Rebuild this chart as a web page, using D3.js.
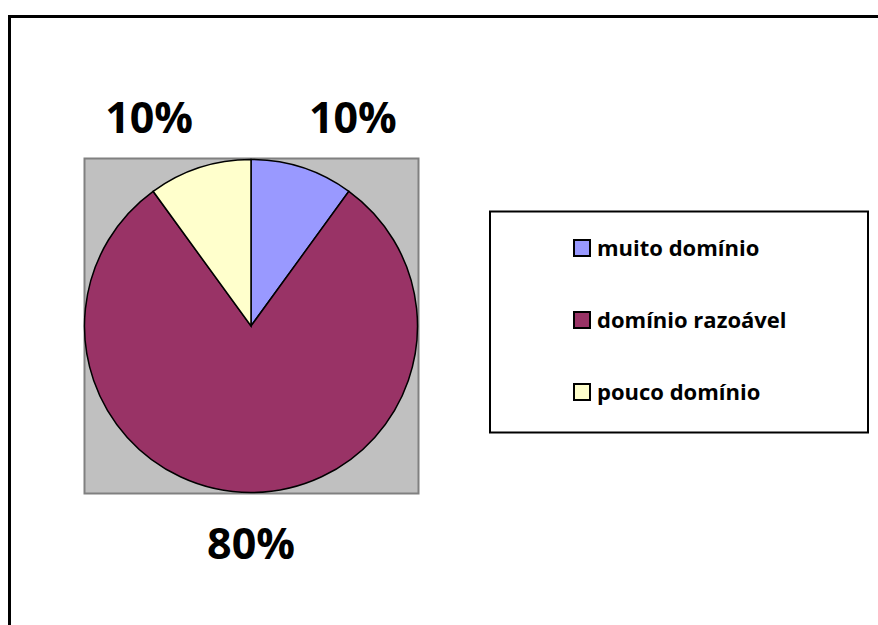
<!DOCTYPE html>
<html>
<head>
<meta charset="utf-8">
<script src="https://cdn.jsdelivr.net/npm/d3@7"></script>
<style>
  body { margin: 0; background: #fff; }
  svg { display: block; font-family: "Open Sans", sans-serif; }
</style>
</head>
<body>
<div id="chart"></div>
<script>
  // data
  const categories = ["muito domínio", "domínio razoável", "pouco domínio"];
  const values = [10, 80, 10];
  const colors = ["#9999FF", "#993366", "#FFFFCC"];

  const width = 878, height = 625;

  const svg = d3.select("#chart")
    .append("svg")
    .attr("width", width)
    .attr("height", height);

  // chart frame (runs past right/bottom edge)
  svg.append("rect")
    .attr("x", 9.5).attr("y", 16.5)
    .attr("width", 900).attr("height", 700)
    .attr("fill", "none")
    .attr("stroke", "#000")
    .attr("stroke-width", 3);

  // plot area
  const plot = { x: 84, y: 158, w: 334, h: 335 };
  svg.append("rect")
    .attr("x", plot.x + 0.5).attr("y", plot.y + 0.5)
    .attr("width", plot.w).attr("height", plot.h)
    .attr("fill", "#C0C0C0")
    .attr("stroke", "#808080")
    .attr("stroke-width", 2);

  const cx = 251, cy = 326, r = 166.5;

  const pie = d3.pie().sort(null).value(d => d.value);
  const arcs = pie(categories.map((c, i) => ({ name: c, value: values[i], color: colors[i] })));
  const arc = d3.arc().innerRadius(0).outerRadius(r);

  const g = svg.append("g").attr("transform", "translate(" + cx + "," + cy + ")");
  g.selectAll("path")
    .data(arcs)
    .enter()
    .append("path")
    .attr("d", arc)
    .attr("fill", d => d.data.color)
    .attr("stroke", "#000")
    .attr("stroke-width", 1.5);

  // percent labels outside
  const total = d3.sum(values);
  g.selectAll("text.pct")
    .data(arcs)
    .enter()
    .append("text")
    .attr("class", "pct")
    .attr("x", d => {
      const mid = (d.startAngle + d.endAngle) / 2;
      return Math.sin(mid) * r * 1.98;
    })
    .attr("y", d => {
      const mid = (d.startAngle + d.endAngle) / 2;
      return mid > Math.PI / 2 && mid < 3 * Math.PI / 2 ? r + 66.5 : -r - 26.5;
    })
    .attr("text-anchor", "middle")
    .attr("font-size", 43)
    .attr("font-weight", "bold")
    .attr("fill", "#000")
    .text(d => Math.round(d.data.value / total * 100) + "%");

  // legend
  svg.append("rect")
    .attr("x", 490).attr("y", 211.5)
    .attr("width", 378).attr("height", 221)
    .attr("fill", "#fff")
    .attr("stroke", "#000")
    .attr("stroke-width", 2);

  const legendY = d3.scalePoint().domain(categories).range([256, 400]);
  const lg = svg.append("g").selectAll("g")
    .data(categories)
    .enter()
    .append("g")
    .attr("transform", d => "translate(0," + legendY(d) + ")");

  lg.append("rect")
    .attr("x", 574).attr("y", -16)
    .attr("width", 16).attr("height", 16)
    .attr("fill", (d, i) => colors[i])
    .attr("stroke", "#000")
    .attr("stroke-width", 2);

  lg.append("text")
    .attr("x", 597).attr("y", 0)
    .attr("font-size", 22)
    .attr("font-weight", "bold")
    .attr("fill", "#000")
    .text(d => d);
</script>
</body>
</html>
